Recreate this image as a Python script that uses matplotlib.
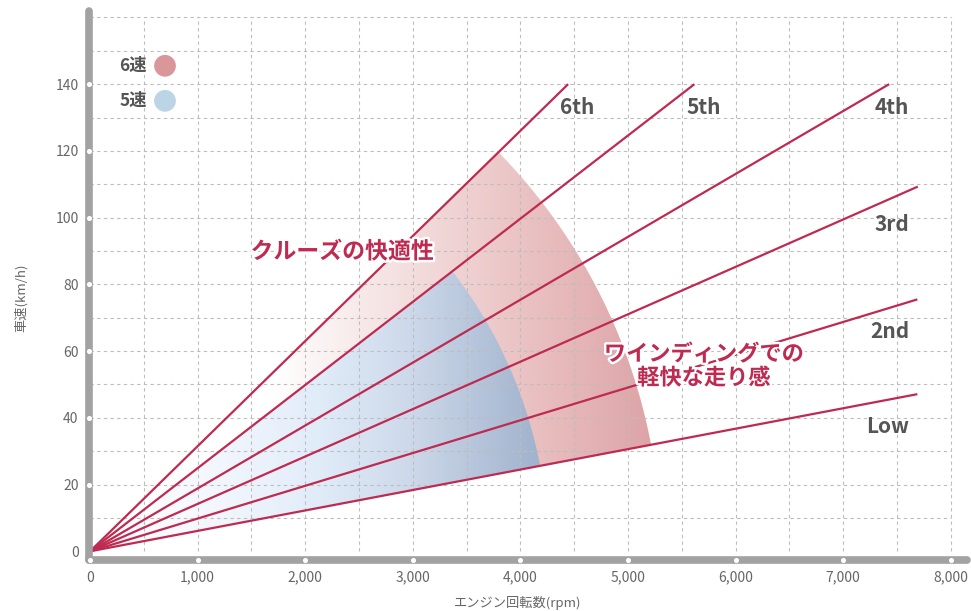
import numpy as np
import matplotlib
matplotlib.use("Agg")
import matplotlib.pyplot as plt
import matplotlib.patheffects as pe
from matplotlib.patches import Polygon
from matplotlib.colors import LinearSegmentedColormap

plt.rcParams['font.family'] = ['Noto Sans CJK JP', 'DejaVu Sans']

# gear lines: end point of each line (rpm, km/h)
gears = ['Low', '2nd', '3rd', '4th', '5th', '6th']
end_rpm = [7690, 7690, 7694, 7428, 5618, 4444]
end_kmh = [47.1, 75.5, 109.3, 140, 140, 140]

# shaded zones: upper gear and reach (rpm along the Low line)
zone_names = ['6速', '5速']
zone_top = ['6th', '5th']
zone_reach = [5215, 4183]

x_ticks = [0, 1000, 2000, 3000, 4000, 5000, 6000, 7000, 8000]
x_tick_labels = ['0', '1,000', '2,000', '3,000', '4,000', '5,000', '6,000', '7,000', '8,000']
y_ticks = [0, 20, 40, 60, 80, 100, 120, 140]

RED = '#be2a50'
GRAY = '#555555'
BAR = '#a2a2a2'

fig = plt.figure(figsize=(9.71, 6.11), dpi=100)
ax = fig.add_axes([0.0916, 0.0840, 0.9041, 0.8984])
XL = (-10, 8150)
YL = (-2.5, 162)
ax.set_xlim(*XL)
ax.set_ylim(*YL)
for s in ax.spines.values():
    s.set_visible(False)

slope = {g: k / r for g, r, k in zip(gears, end_rpm, end_kmh)}
top_pt = {g: (r, k) for g, r, k in zip(gears, end_rpm, end_kmh)}


def sector(top, reach):
    # circular on screen, so work in display coords
    o = ax.transData.transform((0, 0))
    lo = ax.transData.transform((reach, reach * slope['Low']))
    r = np.hypot(*(lo - o))
    a0 = np.arctan2(lo[1] - o[1], lo[0] - o[0])
    t = ax.transData.transform(top_pt[top])
    a1 = np.arctan2(t[1] - o[1], t[0] - o[0])
    ang = np.linspace(a0, a1, 200)
    pts = np.column_stack([o[0] + r * np.cos(ang), o[1] + r * np.sin(ang)])
    pts = np.vstack([o, pts])
    return ax.transData.inverted().transform(pts)


zone_cmaps = {
    '6速': LinearSegmentedColormap.from_list('r', [
        (0.0, '#ffffff'), (0.32, '#ffffff'), (0.55, '#f4dfdf'),
        (0.75, '#ebc4c5'), (1.0, '#dca2a5')]),
    '5速': LinearSegmentedColormap.from_list('b', [
        (0.0, '#ffffff'), (0.25, '#f4f8fd'), (0.50, '#e1ecf9'),
        (0.70, '#cdd9ea'), (1.0, '#9eb0cb')]),
}
zone_span = {'6速': 5300, '5速': 4250}

for name, top, reach in zip(zone_names, zone_top, zone_reach):
    pts = sector(top, reach)
    xs = np.linspace(0, zone_span[name], 500)
    img = zone_cmaps[name](xs / zone_span[name])[None, :, :]
    im = ax.imshow(img, extent=(0, zone_span[name], 0, 150), aspect='auto',
                   origin='lower', zorder=1, interpolation='bilinear')
    poly = Polygon(pts, closed=True, facecolor='none', edgecolor='none')
    ax.add_patch(poly)
    im.set_clip_path(poly)

ax.set_xlim(*XL)
ax.set_ylim(*YL)

# dashed grid
ax.vlines(np.arange(500, 8001, 500), 0, 160, colors='#bdbdbd',
          linestyles=(0, (3, 3)), lw=0.8, zorder=2)
ax.hlines(np.arange(10, 161, 10), 0, 8000, colors='#bdbdbd',
          linestyles=(0, (3, 3)), lw=0.8, zorder=2)

# gear lines
for g, r, k in zip(gears, end_rpm, end_kmh):
    ax.plot([0, r], [0, k], color=RED, lw=1.6, zorder=3, solid_capstyle='butt')

# gear labels
lab_pos = {'6th': (4369, 132.9, 'left'), '5th': (5540, 132.9, 'left'),
           '4th': (7614, 132.9, 'right'), '3rd': (7614, 97.8, 'right'),
           '2nd': (7614, 65.8, 'right'), 'Low': (7614, 37.3, 'right')}
for g in gears:
    x, y, ha = lab_pos[g]
    ax.text(x, y, g, ha=ha, va='center', fontsize=15, fontweight='bold',
            color=GRAY, zorder=4)

# axis bars with round caps
ax.plot([XL[0], XL[0]], [YL[0], YL[1]], color=BAR, lw=5.5,
        solid_capstyle='round', clip_on=False, zorder=5)
ax.plot([XL[0], XL[1]], [YL[0], YL[0]], color=BAR, lw=5.5,
        solid_capstyle='round', clip_on=False, zorder=5)
ax.scatter([XL[0]] * 7, y_ticks[1:], s=7, color='white', zorder=6, clip_on=False)
ax.scatter(x_ticks, [YL[0]] * len(x_ticks), s=7, color='white', zorder=6, clip_on=False)

ax.set_xticks(x_ticks)
ax.set_xticklabels(x_tick_labels)
ax.set_yticks(y_ticks)
ax.tick_params(length=0, labelsize=10, labelcolor='#666666')
ax.tick_params(axis='x', pad=8)
ax.tick_params(axis='y', pad=7.5)

fig.text(518 / 971, 1 - 603 / 611, 'エンジン回転数(rpm)', ha='center', va='center',
         fontsize=9.5, color='#666666')
fig.text(21 / 971, 1 - 298 / 611, '車速(km/h)', ha='center', va='center',
         rotation=90, fontsize=9.5, color='#666666')

# zone annotations
outline = [pe.withStroke(linewidth=3.5, foreground='white')]
ax.text(2342, 89.7, 'クルーズの快適性', ha='center', va='center', fontsize=16.5,
        fontweight='bold', color=RED, zorder=7, path_effects=outline)
ax.text(5707, 55.5, 'ワインディングでの\n軽快な走り感', ha='center', va='center',
        fontsize=16, fontweight='bold', color=RED, zorder=7,
        linespacing=1.05, path_effects=outline)

# legend
leg_colors = ['#d9979a', '#bbd4e6']
leg_y = [145.5, 135]
for name, c, y in zip(zone_names, leg_colors, leg_y):
    ax.text(530, y, name, ha='right', va='center', fontsize=12.5,
            fontweight='bold', color=GRAY, zorder=7)
    ax.scatter([697], [y], s=245, color=c, zorder=7, edgecolors='none')

fig.savefig('out.png', dpi=100)
